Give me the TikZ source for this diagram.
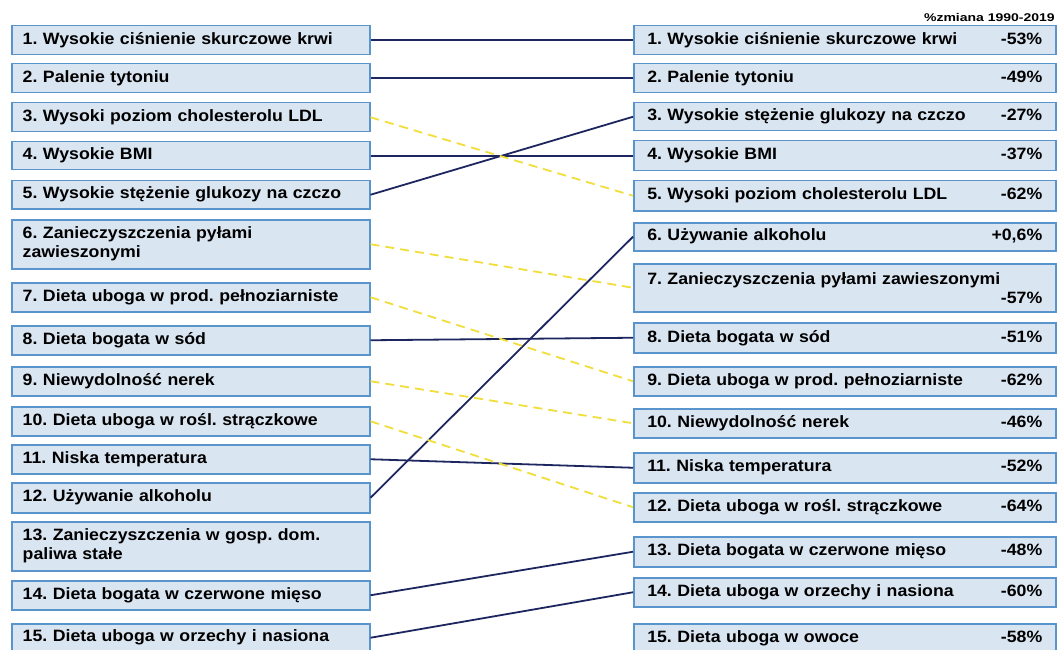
\documentclass[tikz,border=0pt]{standalone}
\usepackage{fontspec}
\setmainfont{Liberation Sans}[FakeStretch=1.08]
\newfontfamily\headfont{Liberation Sans}[FakeStretch=1.25]
\frenchspacing

\definecolor{boxfill}{RGB}{218,229,242}
\definecolor{boxline}{RGB}{90,148,205}
\definecolor{navyline}{RGB}{30,38,95}
\definecolor{yellowline}{RGB}{240,222,60}

\tikzset{
    riskbox/.style={rectangle, draw=boxline, fill=boxfill, line width=1.5pt,
        anchor=north west, align=left, inner xsep=0pt, inner ysep=0pt,
        font=\fontsize{16.4}{19}\selectfont\bfseries},
    leftbox/.style={riskbox, minimum width=358pt, text width=336pt},
    rightbox/.style={riskbox, minimum width=422pt, text width=395pt},
    solidlink/.style={draw=navyline, line width=1.8pt},
    dashlink/.style={draw=yellowline, line width=1.8pt, dash pattern=on 9pt off 6pt},
}

\begin{document}
\begin{tikzpicture}[x=1pt, y=-1pt]
    \useasboundingbox (0,0) rectangle (1058,650);
    % Left column: top / bottom / text
    \def\lefts{
25/54/{1. Wysokie ciśnienie skurczowe krwi}
, 63/92/{2. Palenie tytoniu}
, 102/131/{3. Wysoki poziom cholesterolu LDL}
, 141/169/{4. Wysokie BMI}
, 180/208/{5. Wysokie stężenie glukozy na czczo}
, 219/268/{6. Zanieczyszczenia pyłami\\zawieszonymi}
, 282/311/{7. Dieta uboga w prod. pełnoziarniste}
, 325/354/{8. Dieta bogata w sód}
, 366/395/{9. Niewydolność nerek}
, 406/435/{10. Dieta uboga w rośl. strączkowe}
, 444/473/{11. Niska temperatura}
, 482/512/{12. Używanie alkoholu}
, 521/570/{13. Zanieczyszczenia w gosp. dom.\\paliwa stałe}
, 580/609/{14. Dieta bogata w czerwone mięso}
, 623/651/{15. Dieta uboga w orzechy i nasiona}}
    \foreach \t/\b/\txt [count=\i] in \lefts {
        \pgfmathsetmacro\hh{\b-\t}
        \node[leftbox, minimum height=\hh pt] (L\i) at (11,\t) {\txt};
    }
    % Right column: top / bottom / text / change
    \def\rights{
25/54/{1. Wysokie ciśnienie skurczowe krwi}/{-53\%}
, 63/92/{2. Palenie tytoniu}/{-49\%}
, 102/130/{3. Wysokie stężenie glukozy na czczo}/{-27\%}
, 140/170/{4. Wysokie BMI}/{-37\%}
, 180/210/{5. Wysoki poziom cholesterolu LDL}/{-62\%}
, 222/250/{6. Używanie alkoholu}/{+0,6\%}
, 263/311/{7. Zanieczyszczenia pyłami zawieszonymi\\}/{-57\%}
, 322/352/{8. Dieta bogata w sód}/{-51\%}
, 366/395/{9. Dieta uboga w prod. pełnoziarniste}/{-62\%}
, 408/437/{10. Niewydolność nerek}/{-46\%}
, 452/482/{11. Niska temperatura}/{-52\%}
, 492/521/{12. Dieta uboga w rośl. strączkowe}/{-64\%}
, 536/566/{13. Dieta bogata w czerwone mięso}/{-48\%}
, 577/606/{14. Dieta uboga w orzechy i nasiona}/{-60\%}
, 623/652/{15. Dieta uboga w owoce}/{-58\%}}
    \foreach \t/\b/\txt/\pct [count=\i] in \rights {
        \pgfmathsetmacro\hh{\b-\t}
        \node[rightbox, minimum height=\hh pt] (R\i) at (633,\t) {\txt\hspace*{\fill}\pct};
    }
    \node[anchor=east, inner sep=0pt, font=\fontsize{11.2}{13}\headfont\bfseries] (head) at (1055,17) {\%zmiana 1990-2019};
    % Draw links
    \foreach \a/\b in {1/1, 2/2, 4/4, 5/3, 8/8, 11/11, 12/6, 14/13, 15/14} {
        \draw[solidlink] (L\a.east) -- (R\b.west);
    }
    \foreach \a/\b in {3/5, 6/7, 7/9, 9/10, 10/12} {
        \draw[dashlink] (L\a.east) -- (R\b.west);
    }
\end{tikzpicture}
\end{document}
